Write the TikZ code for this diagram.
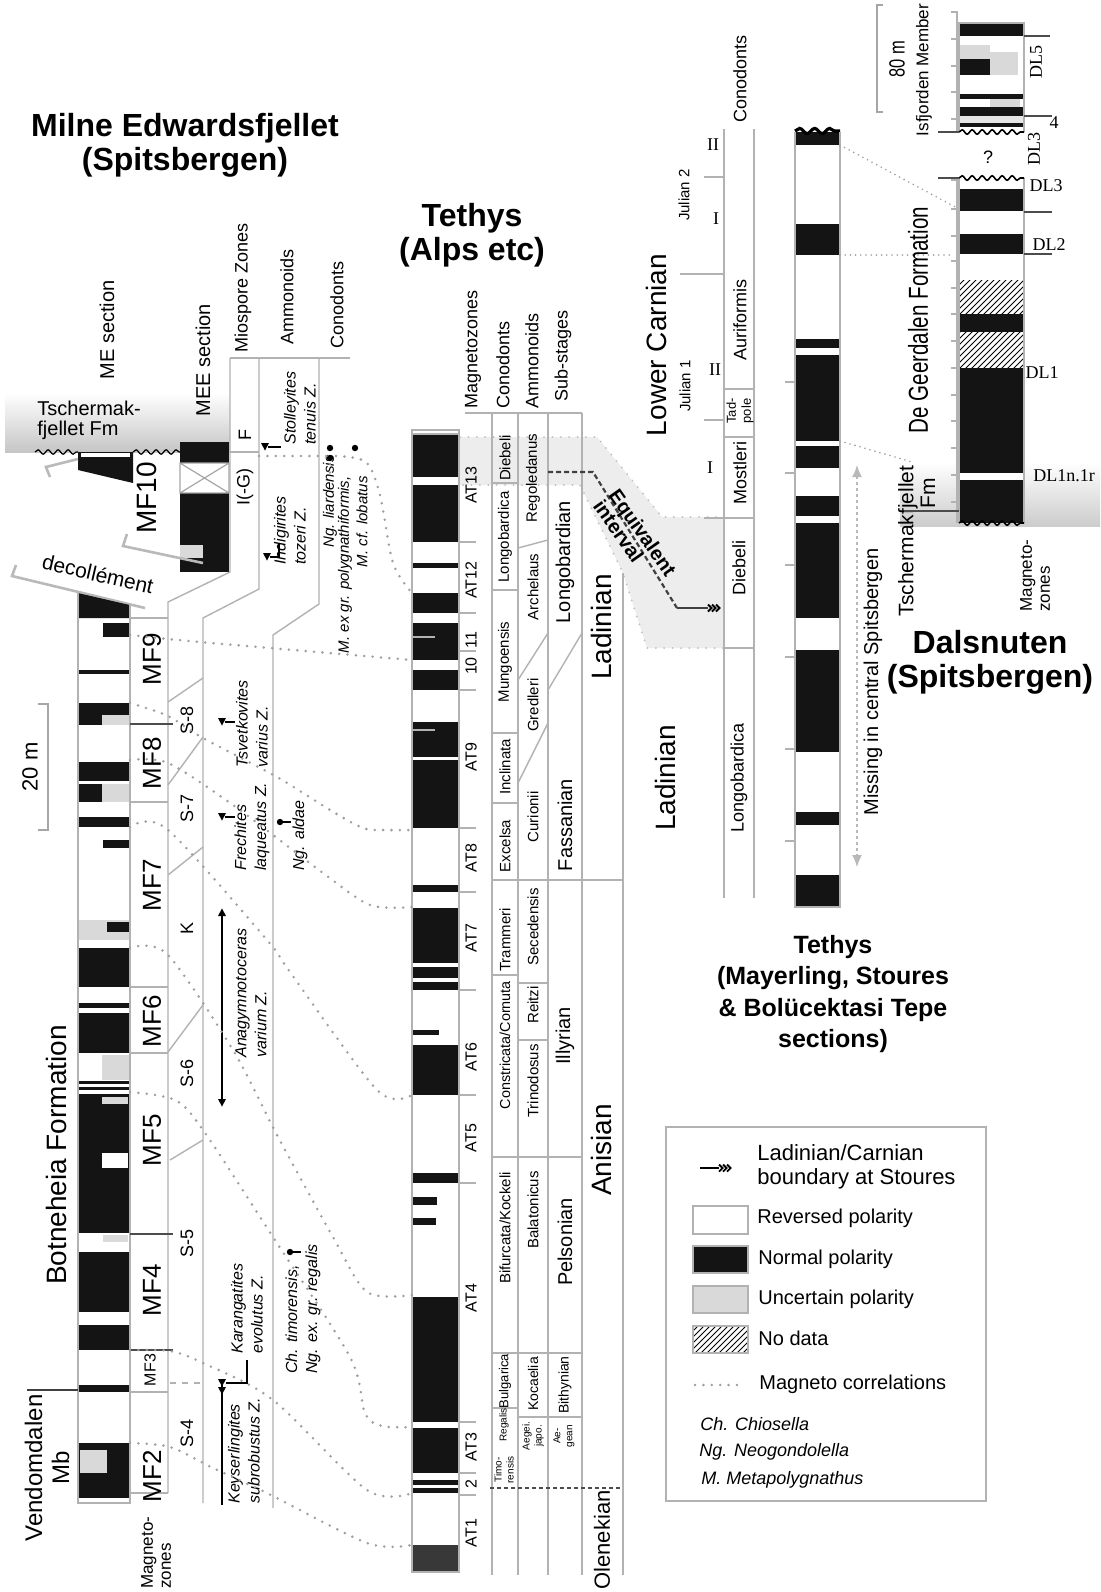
\documentclass[tikz,border=0pt]{standalone}
\usepackage{fontspec}
\setmainfont{Liberation Sans}
\newfontfamily\serifr{Liberation Serif}
\newfontfamily\narrowsans[FakeStretch=0.75]{Liberation Sans}
\usetikzlibrary{patterns,decorations.pathmorphing,arrows.meta}
\newcommand\chevs[2]{\foreach \ci in {0,4,8} {\draw[line width=0.9pt] ({#1+\ci},{#2-3.5}) -- ({#1+\ci+3.5},{#2}) -- ({#1+\ci},{#2+3.5});}}
\newcommand\trid[2]{\fill ({#1-4},{#2-4}) -- ({#1+4},{#2-4}) -- ({#1},{#2+3.5}) -- cycle;}
\newcommand\triu[2]{\fill ({#1-4},{#2+4}) -- ({#1+4},{#2+4}) -- ({#1},{#2-3.5}) -- cycle;}
\tikzset{
 zline/.style={draw=gray!60, line width=0.7pt},
 magc/.style={draw=gray!75, line width=1.4pt, dash pattern=on 0pt off 4.2pt, line cap=round},
 rtx/.style={rotate=90, inner sep=0pt},
 labx/.style={inner sep=0pt},
 colx/.style={draw=gray!60, line width=0.6pt},
 blk/.style={fill=black!92},
 unc/.style={fill=gray!30},
 gline/.style={draw=gray!55, line width=1.3pt},
 wav/.style={decorate, decoration={snake, amplitude=1.1pt, segment length=5pt}, line width=0.6pt},
 f8i/.style={font=\itshape\fontsize{8}{10}\selectfont},
 f9/.style={font=\fontsize{9}{11}\selectfont},
 f75/.style={font=\fontsize{7.5}{9}\selectfont},
 f10/.style={font=\fontsize{10}{12}\selectfont},
 f14/.style={font=\fontsize{14}{16}\selectfont},
 rom/.style={font=\serifr\fontsize{9}{10}\selectfont, inner sep=0pt},
}
\begin{document}
\begin{tikzpicture}[x=0.5pt,y=-0.5pt]
\useasboundingbox (0,0) rectangle (1100,1592);
\fill[white] (0,0) rectangle (1100,1592);

%================ LEFT: MILNE EDWARDSFJELLET =================
\node[labx,font=\bfseries\fontsize{16}{17}\selectfont,align=center] (tME) at (185,145) {Milne Edwardsfjellet\\(Spitsbergen)};
\shade[top color=white,bottom color=gray!45] (5,393) rectangle (230,452);
\node[labx,anchor=north west,align=left,font=\fontsize{10}{10}\selectfont] (tTs) at (37,401) {Tschermak-\\fjellet Fm};

\node[rtx,f10] (hME) at (107,330) {ME section};
\node[rtx,f10] (hMEE) at (203,360) {MEE section};
\node[rtx,f9] (hMio) at (243,288) {Miospore Zones};
\node[rtx,f9] (hAmm) at (287,297) {Ammonoids};
\node[rtx,f9] (hCon) at (337,305) {Conodonts};

% ME section block
\fill[blk] (78,452) -- (133,452) -- (133,483) -- (78,470) -- cycle;
\fill[white] (81,453) rectangle (130,457);
\draw[wav] (35,452) -- (78,452);
\draw[wav] (133,452) -- (180,452);
% MEE section
\fill[blk] (180,442) rectangle (229,572);
\fill[white] (180,463) rectangle (229,493);
\draw[gray!70,line width=0.6pt] (180,463) -- (229,493) (180,493) -- (229,463) (180,463) rectangle (229,493);
\fill[unc] (180,545) rectangle (203,558);
\node[rtx,font=\fontsize{14}{14}\selectfont] (tMF10) at (147,498) {MF10};

% decollement half-arrows
\draw[gline] (50,477) -- (46,467) -- (78,459);
\draw[gline] (127,534) -- (123,546) -- (203,563);
\draw[gline] (16,565) -- (12,576) -- (145,608);
\node[labx,rotate=-13,font=\fontsize{10.5}{11}\selectfont] (tDec) at (98,574) {decollément};

% zone frame lines
\draw[zline] (230,358) -- (350,358);
\draw[zline] (230,358) -- (230,572) -- (168,602) -- (168,1493);
\draw[zline] (259,358) -- (259,589) -- (203,618) -- (203,1503);
\draw[zline] (319,358) -- (319,604) -- (273,635) -- (273,1508);
\draw[zline] (230,452) -- (259,452);
\node[labx,font=\fontsize{9}{9}\selectfont] (tF) at (245,435) {\rotatebox{90}{F}};
\node[rtx,f9] (tIG) at (245,487) {I(-G)};

% Botneheia column
\fill[white] (78,593) -- (130,605) -- (130,1503) -- (78,1503) -- cycle;
\fill[blk] (78,593) -- (130,605) -- (130,618) -- (78,618) -- cycle;
\fill[blk] (103,623) rectangle (130,637);
\fill[blk] (78,670) rectangle (130,674);
\fill[blk] (78,703) rectangle (130,715);
\fill[blk] (78,715) rectangle (102,725);
\fill[unc] (102,715) rectangle (130,725);
\fill[blk] (78,762) rectangle (130,781);
\fill[blk] (78,784) rectangle (102,802);
\fill[unc] (102,784) rectangle (130,802);
\fill[blk] (78,817) rectangle (130,827);
\fill[blk] (103,840) rectangle (130,848);
\fill[unc] (78,920) rectangle (130,940);
\fill[blk] (107,922) rectangle (130,932);
\fill[blk] (78,948) rectangle (130,987);
\fill[blk] (78,1003) rectangle (130,1008);
\fill[blk] (78,1013) rectangle (130,1053);
\fill[unc] (102,1055) rectangle (130,1080);
\fill[blk] (78,1081) rectangle (130,1084);
\fill[blk] (78,1087) rectangle (130,1090);
\fill[blk] (78,1094) rectangle (130,1233);
\fill[unc] (102,1097) rectangle (128,1104);
\fill[white] (102,1153) rectangle (128,1168);
\fill[unc] (103,1235) rectangle (128,1242);
\fill[blk] (78,1252) rectangle (130,1312);
\fill[blk] (78,1325) rectangle (130,1350);
\fill[blk] (78,1385) rectangle (130,1392);
\fill[blk] (78,1443) rectangle (130,1498);
\fill[unc] (80,1450) rectangle (107,1473);
\draw[colx] (78,593) -- (78,1503) -- (130,1503) -- (130,605);
\draw[black!75,line width=0.8pt] (27,1390) -- (78,1390);

% MF boxes
\foreach \yy in {618,802,987,1053,1392,1493} {\draw[zline] (130,\yy) -- (168,\yy);}
\foreach \yy in {724,1234,1350} {\draw[black!70,line width=0.8pt] (130,\yy) -- (173,\yy);}
\node[rtx,font=\fontsize{13}{13}\selectfont] (mf9) at (152,659) {MF9};
\node[rtx,font=\fontsize{13}{13}\selectfont] (mf8) at (152,763) {MF8};
\node[rtx,font=\fontsize{13}{13}\selectfont] (mf7) at (152,885) {MF7};
\node[rtx,font=\fontsize{13}{13}\selectfont] (mf6) at (152,1021) {MF6};
\node[rtx,font=\fontsize{13}{13}\selectfont] (mf5) at (152,1140) {MF5};
\node[rtx,font=\fontsize{13}{13}\selectfont] (mf4) at (152,1290) {MF4};
\node[rtx,font=\fontsize{8}{8}\selectfont] (mf3) at (150,1370) {MF3};
\node[rtx,font=\fontsize{13}{13}\selectfont] (mf2) at (152,1476) {MF2};

% miospore boundaries
\draw[zline] (168,702) -- (203,678);
\draw[zline] (168,785) -- (203,737);
\draw[zline] (168,875) -- (203,847);
\draw[zline] (168,1052) -- (203,1005);
\draw[zline] (170,1160) -- (203,1140);
\draw[zline,dashed] (170,1383) -- (203,1383);
\node[rtx,f9] (s8) at (187,720) {S-8};
\node[rtx,f9] (s7) at (187,808) {S-7};
\node[rtx,f9] (sK) at (187,928) {K};
\node[rtx,f9] (s6) at (187,1073) {S-6};
\node[rtx,f9] (s5) at (187,1243) {S-5};
\node[rtx,f9] (s4) at (187,1433) {S-4};

% ammonoid markers
\trid{265}{447} \draw[line width=0.7pt] (268,447) -- (281,447);
\trid{267}{557} \draw[line width=0.7pt] (270,557) -- (279,557) -- (279,543);
\trid{222}{722} \draw[line width=0.7pt] (225,722) -- (235,722);
\trid{222}{817} \draw[line width=0.7pt] (225,817) -- (235,817);
\triu{222}{912} \trid{222}{1103} \draw[line width=0.7pt] (222,912) -- (222,1103);
\trid{222}{1383} \trid{222}{1391} \draw[line width=0.7pt] (222,1383) -- (222,1505);
\draw[line width=0.7pt] (226,1383) -- (247,1383) -- (247,1360);

\node[rtx,anchor=west,align=left,f8i] (aSt) at (300,445) {Stolleyites\\tenuis Z.};
\node[rtx,anchor=west,align=left,f8i] (aIn) at (290,565) {Indigirites\\tozeri Z.};
\node[rtx,anchor=west,align=left,f8i] (aTs) at (252,768) {Tsvetkovites\\varius Z.};
\node[rtx,anchor=west,align=left,f8i] (aFr) at (252,871) {Frechites\\laqueatus Z.};
\node[rtx,anchor=west,align=left,f8i] (aAn) at (251,1058) {Anagymnotoceras\\varium Z.};
\node[rtx,anchor=west,align=left,f8i] (aKa) at (247,1354) {Karangatites\\evolutus Z.};
\node[rtx,anchor=west,align=left,f8i] (aKe) at (244,1504) {Keyserlingites\\subrobustus Z.};

% conodont dots
\fill (330,448) circle (3.2); \fill (330,458) circle (3.2); \fill (355,448) circle (3.2);
\fill (280,822) circle (3.2); \draw[line width=0.6pt] (280,822) -- (291,822);
\fill (290,1252) circle (3.2); \draw[line width=0.6pt] (290,1252) -- (301,1252);
\node[rtx,anchor=west,font=\itshape\fontsize{7.5}{9}\selectfont] (cLi) at (330,548) {Ng. liardensis};
\node[rtx,anchor=east,font=\itshape\fontsize{7.5}{9}\selectfont] (cMe) at (345,476) {M. ex gr. polygnathiformis,};
\node[rtx,anchor=east,font=\itshape\fontsize{7.5}{9}\selectfont] (cMc) at (362,476) {M. cf. lobatus};
\node[rtx,anchor=west,f8i] (cAl) at (300,871) {Ng. aldae};
\node[rtx,anchor=west,align=left,f8i] (cCh) at (303,1374) {Ch. timorensis,\\Ng. ex. gr. regalis};

% titles and scale
\node[rtx,f14] (tBot) at (56,1155) {Botneheia Formation};
\node[rtx,align=center,font=\fontsize{12}{13.5}\selectfont] (tVen) at (47,1468) {Vendomdalen\\Mb};
\node[rtx,anchor=west,align=left,font=\fontsize{8.5}{9}\selectfont] (tMz) at (156,1589) {Magneto-\\zones};
\draw[gray!70,line width=0.7pt] (38,704) -- (48,704) -- (48,830) -- (38,830);
\node[rtx,font=\fontsize{11}{11}\selectfont] (t20) at (30,767) {20 m};

%================ TETHYS ALPS =================
\node[labx,font=\bfseries\fontsize{16}{17}\selectfont,align=center] (tTA) at (472,235) {Tethys\\(Alps etc)};
\node[rtx,anchor=west,f9] (hMag) at (473,409) {Magnetozones};
\node[rtx,anchor=west,f9] (hCo2) at (503,409) {Conodonts};
\node[rtx,anchor=west,f9] (hAm2) at (532,409) {Ammonoids};
\node[rtx,anchor=west,f9] (hSub) at (563,402) {Sub-stages};

% equivalent interval shading
\fill[gray!14] (460,437) -- (597,437) -- (662,517) -- (723,517) -- (723,648) -- (647,648) -- (623,573) -- (580,485) -- (460,485) -- cycle;
\draw[magc,draw=gray!50,line width=1pt] (460,437) -- (597,437) -- (662,517) -- (723,517);
\draw[magc,draw=gray!50,line width=1pt] (723,648) -- (647,648) -- (623,573) -- (580,485) -- (460,485);

% column frame lines
\draw[zline] (465,413) -- (582,413);
\foreach \xx in {492,518,548,582} {\draw[zline] (\xx,413) -- (\xx,1575);}
\draw[zline] (623,573) -- (623,1575);
\foreach \yy in {483,590,733,803,880,975} {\draw[zline] (492,\yy) -- (518,\yy);}
\draw[zline] (492,1408) -- (518,1408);
\draw[zline] (518,548) -- (548,540);
\draw[zline] (518,680) -- (548,633);
\draw[zline] (518,783) -- (548,723);
\draw[zline] (548,690) -- (582,633);
\draw[zline] (518,880) -- (623,880);
\draw[zline] (518,983) -- (548,983);
\draw[zline] (518,1040) -- (548,1040);
\draw[zline] (492,1157) -- (582,1157);
\draw[zline] (492,1353) -- (582,1353);
\draw[zline] (518,1417) -- (582,1417);
\draw[black!70,line width=0.8pt,dash pattern=on 2pt off 1.5pt] (490,1488) -- (623,1488);

% Tethys magnetozone column
\fill[white] (412,430) rectangle (459,1572);
\fill[blk] (412,435) rectangle (459,477);
\fill[blk] (412,485) rectangle (459,542);
\fill[blk] (412,563) rectangle (459,568);
\fill[blk] (412,593) rectangle (459,613);
\fill[blk] (412,623) rectangle (459,660);
\fill[blk] (412,670) rectangle (459,690);
\fill[blk] (412,722) rectangle (459,757);
\fill[blk] (412,760) rectangle (459,828);
\fill[blk] (412,885) rectangle (459,892);
\fill[blk] (412,908) rectangle (459,963);
\fill[blk] (412,967) rectangle (459,978);
\fill[blk] (412,982) rectangle (459,990);
\fill[blk] (412,1030) rectangle (439,1035);
\fill[blk] (412,1045) rectangle (459,1095);
\fill[blk] (412,1173) rectangle (459,1183);
\fill[blk] (412,1197) rectangle (437,1205);
\fill[blk] (412,1218) rectangle (436,1225);
\fill[blk] (412,1297) rectangle (459,1422);
\fill[blk] (412,1428) rectangle (459,1473);
\fill[blk] (412,1480) rectangle (459,1485);
\fill[blk] (412,1488) rectangle (459,1493);
\fill[black!78] (412,1545) rectangle (459,1572);
\draw[gray!60,line width=0.7pt] (412,637) -- (435,637) (412,730) -- (435,730);
\draw[colx] (412,430) rectangle (459,1572);
\draw[colx] (412,434) -- (459,434);
\foreach \yy in {542,613,651,690,828,892,990,1095,1183,1422,1473,1495} {\draw[zline] (459,\yy) -- (476,\yy);}
\foreach \yy/\tt/\nn in {485/AT13/m13,580/AT12/m12,640/11/m11,666/10/m10,757/AT9/m9,858/AT8/m8,938/AT7/m7,1057/AT6/m6,1138/AT5/m5,1298/AT4/m4,1447/AT3/m3,1484/2/m2,1533/AT1/m1}
  {\node[rtx,font=\fontsize{8}{8}\selectfont] (\nn) at (471,\yy) {\tt};}

% conodonts
\node[rtx,f75] (c1) at (505,458) {Diebeli};
\node[rtx,f75] (c2) at (505,537) {Longobardica};
\node[rtx,f75] (c3) at (505,662) {Mungoensis};
\node[rtx,f75] (c4) at (505,767) {Inclinata};
\node[rtx,f75] (c5) at (505,846) {Excelsa};
\node[rtx,f75] (c6) at (505,940) {Trammeri};
\node[rtx,font=\fontsize{7.2}{8}\selectfont] (c7) at (505,1045) {Constricata/Cornuta};
\node[rtx,f75] (c8) at (505,1228) {Bifurcata/Kockeli};
\node[rtx,font=\fontsize{6.5}{7}\selectfont] (c9) at (505,1381) {Bulgarica};
\node[rtx,font=\fontsize{5}{6}\selectfont] (c10) at (504,1425) {Regalis};
\node[rtx,align=center,font=\fontsize{5}{6}\selectfont] (c11) at (504,1470) {Timo-\\rensis};
% ammonoids
\node[rtx,f75] (a1) at (533,478) {Regoledanus};
\node[rtx,f75] (a2) at (533,587) {Archelaus};
\node[rtx,f75] (a3) at (533,705) {Gredleri};
\node[rtx,f75] (a4) at (533,817) {Curionii};
\node[rtx,f75] (a5) at (533,927) {Secedensis};
\node[rtx,f75] (a6) at (533,1005) {Reitzi};
\node[rtx,f75] (a7) at (533,1081) {Trinodosus};
\node[rtx,f75] (a8) at (533,1210) {Balatonicus};
\node[rtx,font=\fontsize{7}{8}\selectfont] (a9) at (533,1384) {Kocaelia};
\node[rtx,align=center,font=\fontsize{5}{6}\selectfont] (a10) at (533,1436) {Aegei.\\japo.};
% sub-stages
\node[rtx,f10] (b1) at (565,562) {Longobardian};
\node[rtx,f10] (b2) at (565,825) {Fassanian};
\node[rtx,f10] (b3) at (565,1036) {Illyrian};
\node[rtx,f10] (b4) at (565,1242) {Pelsonian};
\node[rtx,font=\fontsize{7}{8}\selectfont] (b5) at (565,1385) {Bithynian};
\node[rtx,align=center,font=\fontsize{5}{6}\selectfont] (b6) at (564,1436) {Ae-\\gean};
% stages
\node[rtx,f14] (g1) at (601,627) {Ladinian};
\node[rtx,f14] (g2) at (601,1150) {Anisian};
\node[rtx,font=\fontsize{11}{11}\selectfont] (g3) at (602,1540) {Olenekian};

% equivalent interval line
\draw[black!75,line width=1.1pt,dash pattern=on 2.5pt off 1.5pt] (548,472) -- (593,472) -- (677,608);
\draw[black!75,line width=0.9pt] (677,608) -- (708,608);
\chevs{708}{608}
\node[labx,rotate=-55,align=left,font=\bfseries\fontsize{10}{9.5}\selectfont] (tEq) at (635,538) {Equivalent\\interval};

% magneto correlations left
\draw[magc] (259,456) -- (330,456);
\draw[magc] (330,464) -- (330,476);
\draw[magc] plot[smooth,tension=0.5] coordinates {(336,456) (366,462) (380,495) (393,563) (412,593)};
\draw[magc] plot[smooth,tension=0.5] coordinates {(130,635) (200,642) (412,660)};
\draw[magc] plot[smooth,tension=0.5] coordinates {(130,703) (168,716) (203,738) (277,777) (330,810) (363,828) (385,830) (412,830)};
\draw[magc] plot[smooth,tension=0.5] coordinates {(130,760) (168,763) (233,805) (323,873) (370,905) (412,907)};
\draw[magc] plot[smooth,tension=0.5] coordinates {(130,827) (167,829) (267,940) (290,972) (377,1090) (412,1095)};
\draw[magc] plot[smooth,tension=0.5] coordinates {(130,948) (167,954) (233,1050) (277,1135) (333,1237) (367,1292) (412,1295)};
\draw[magc] plot[smooth,tension=0.5] coordinates {(130,1092) (175,1100) (203,1130) (273,1237) (350,1357) (365,1413) (382,1426) (412,1427)};
\draw[magc] plot[smooth,tension=0.5] coordinates {(130,1350) (170,1351) (203,1363) (273,1400) (367,1490) (412,1493)};
\draw[magc] plot[smooth,tension=0.5] coordinates {(130,1443) (170,1447) (213,1468) (267,1493) (367,1543) (412,1545)};

%================ TETHYS MAYERLING =================
\node[rtx,f9] (hCo3) at (740,79) {Conodonts};
\draw[zline] (724,129) -- (724,898);
\draw[zline] (754,129) -- (754,898);
\draw[zline] (704,177) -- (724,177);
\draw[zline] (680,274) -- (724,274);
\draw[zline] (704,420) -- (724,420);
\draw[zline] (704,518) -- (754,518);
\foreach \yy in {389,437,648} {\draw[zline] (724,\yy) -- (754,\yy);}
\node[rom] (r1) at (713,145) {II};
\node[rtx,font=\fontsize{7.5}{8}\selectfont] (r2) at (684,195) {Julian 2};
\node[rom] (r3) at (716,219) {I};
\node[rtx,f14] (r4) at (656,345) {Lower Carnian};
\node[rtx,f9] (r5) at (740,320) {Auriformis};
\node[rom] (r6) at (715,370) {II};
\node[rtx,font=\fontsize{7.5}{8}\selectfont] (r7) at (685,386) {Julian 1};
\node[rtx,align=center,font=\fontsize{6.5}{7.5}\selectfont] (r8) at (740,411) {Tad-\\pole};
\node[rom] (r9) at (710,468) {I};
\node[rtx,f9] (r10) at (740,473) {Mostleri};
\node[rtx,f9] (r11) at (739,568) {Diebeli};
\node[rtx,f9] (r12) at (739,778) {Longobardica};
\node[rtx,f14] (r13) at (665,778) {Ladinian};

\fill[white] (795,132) rectangle (840,907);
\fill[blk] (795,132) rectangle (840,145);
\draw[black,line width=1.6pt,decorate,decoration={snake,amplitude=1.3pt,segment length=7.5pt}] (795,131) -- (840,131);
\fill[blk] (795,224) rectangle (840,255);
\fill[blk] (795,339) rectangle (840,348);
\fill[blk] (795,355) rectangle (840,441);
\fill[blk] (795,446) rectangle (840,468);
\fill[blk] (795,496) rectangle (840,516);
\fill[blk] (795,523) rectangle (840,618);
\fill[blk] (795,650) rectangle (840,752);
\fill[blk] (795,812) rectangle (840,825);
\fill[blk] (795,875) rectangle (840,907);
\draw[colx] (795,132) -- (795,907) -- (840,907) -- (840,132);
\foreach \yy in {382,473,565,657,749,841} {\draw[zline] (785,\yy) -- (795,\yy);}
\draw[gray!55,line width=0.8pt,dash pattern=on 1.5pt off 1.5pt,{Latex[length=6pt,width=5pt]}-{Latex[length=6pt,width=5pt]}] (857,465) -- (857,867);
\node[rtx,f10] (tMis) at (873,682) {Missing in central Spitsbergen};
\node[labx,font=\bfseries\fontsize{12.5}{15.75}\selectfont,align=center] (tTM) at (833,994) {Tethys\\(Mayerling, Stoures\\\& Bolücektasi Tepe\\sections)};

% correlations right
\draw[magc,line width=0.9pt,dash pattern=on 0pt off 2.6pt] (840,145) -- (959,209);
\draw[magc,line width=0.9pt,dash pattern=on 0pt off 2.6pt] (840,255) -- (950,255);
\draw[magc,line width=0.9pt,dash pattern=on 0pt off 2.6pt] (840,441) -- (957,475);

%================ DALSNUTEN =================
\shade[top color=white,bottom color=gray!40] (900,462) rectangle (1100,526);
\draw[gray!70,line width=0.7pt] (883,5) -- (877,5) -- (877,112) -- (883,112);
\node[rtx,font=\narrowsans\fontsize{11}{11}\selectfont] (t80) at (897,59) {80 m};
\node[rtx,font=\fontsize{8.5}{9}\selectfont] (tIsf) at (924,70) {Isfjorden Member};
\node[rtx,font=\narrowsans\fontsize{13.7}{14}\selectfont] (tDG) at (918,320) {De Geerdalen Formation};
\node[rtx,font=\fontsize{10.5}{11}\selectfont] (tTs2) at (908,541) {Tschermakfjellet};
\node[rtx,font=\fontsize{10.5}{11}\selectfont] (tFm2) at (928,493) {Fm};
\node[rtx,anchor=west,align=left,font=\fontsize{8.5}{9}\selectfont] (tMz2) at (1035,612) {Magneto-\\zones};
\node[labx,font=\bfseries\fontsize{16}{17}\selectfont,align=center] (tDal) at (990,662) {Dalsnuten\\(Spitsbergen)};

% upper column
\fill[white] (959,23) rectangle (1024,132);
\fill[blk] (959,23) rectangle (1024,36);
\fill[unc] (959,45) rectangle (990,59);
\fill[unc] (990,52) rectangle (1018,75);
\fill[blk] (959,59) rectangle (990,75);
\fill[blk] (959,94) rectangle (1024,99);
\fill[unc] (990,99) rectangle (1020,107);
\fill[blk] (959,107) rectangle (1024,116);
\fill[gray!20] (959,116) rectangle (1024,123);
\fill[blk] (959,123) rectangle (1024,127);
\draw[colx] (959,132) -- (959,23) -- (1024,23) -- (1024,132);
\draw[wav,line width=0.8pt] (959,132) -- (1024,132);
\draw[colx] (957,11) -- (957,132);
\foreach \yy in {12,39,66,92,119} {\draw[colx] (951,\yy) -- (957,\yy);}
\draw[black!70,line width=0.7pt] (1024,36) -- (1050,36);
\draw[black!70,line width=0.7pt] (1024,116) -- (1052,116);
\draw[black!70,line width=0.7pt] (938,132) -- (959,132);
\node[rtx,font=\serifr\fontsize{9}{9}\selectfont] (dl5) at (1036,62) {DL5};
\node[rom] (dl4) at (1054,123) {4};
\node[rtx,font=\serifr\fontsize{9}{9}\selectfont] (dl3a) at (1034,149) {DL3};
\node[labx,font=\fontsize{9}{9}\selectfont] (tQ) at (988,157) {?};

% lower column
\fill[white] (959,178) rectangle (1024,523);
\fill[blk] (959,189) rectangle (1024,211);
\fill[blk] (959,234) rectangle (1024,254);
\fill[pattern=north east lines] (959,280) rectangle (1024,314);
\fill[blk] (959,314) rectangle (1024,332);
\fill[pattern=north east lines] (959,332) rectangle (1024,368);
\fill[blk] (959,368) rectangle (1024,473);
\fill[blk] (959,480) rectangle (1024,523);
\draw[colx] (959,178) -- (959,523) (1024,178) -- (1024,523);
\draw[wav,line width=0.8pt] (959,178) -- (1024,178);
\draw[wav,line width=0.8pt] (959,523) -- (1024,523);
\draw[colx] (957,178) -- (957,523);
\foreach \yy in {180,209,236,261,288,314,341,368,395,421,448,475,502} {\draw[colx] (951,\yy) -- (957,\yy);}
\draw[black!70,line width=0.7pt] (938,178) -- (959,178);
\draw[black!70,line width=0.7pt] (904,511) -- (959,511);
\draw[black!70,line width=0.7pt] (1024,212) -- (1052,212);
\draw[black!70,line width=0.7pt] (1024,254) -- (1052,254);
\node[rom] (dl3) at (1046,186) {DL3};
\node[rom] (dl2) at (1049,245) {DL2};
\node[rom] (dl1) at (1042,373) {DL1};
\node[rom] (dl1n) at (1064,476) {DL1n.1r};

%================ LEGEND =================
\draw[gray!60,line width=0.7pt] (666,1127) rectangle (986,1501);
\draw[line width=0.8pt] (700,1168) -- (719,1168);
\chevs{719}{1168}
\node[labx,anchor=west,align=left,font=\fontsize{11}{12}\selectfont] (lg1) at (757,1167) {Ladinian/Carnian\\boundary at Stoures};
\draw[gray!60,fill=white,line width=0.7pt] (693,1206) rectangle (748,1234);
\node[labx,anchor=west,f10] (lg2) at (757,1218) {Reversed polarity};
\draw[gray!60,fill=black!92,line width=0.7pt] (693,1246) rectangle (748,1273);
\node[labx,anchor=west,f10] (lg3) at (758,1259) {Normal polarity};
\draw[gray!60,fill=gray!30,line width=0.7pt] (693,1286) rectangle (748,1313);
\node[labx,anchor=west,f10] (lg4) at (758,1299) {Uncertain polarity};
\fill[pattern=north east lines] (693,1326) rectangle (748,1353);
\draw[gray!60,line width=0.7pt] (693,1326) rectangle (748,1353);
\node[labx,anchor=west,f10] (lg5) at (758,1338) {No data};
\draw[magc] (695,1385) -- (740,1385);
\node[labx,anchor=west,f10] (lg6) at (759,1384) {Magneto correlations};
\node[labx,anchor=west,font=\itshape\fontsize{9}{9}\selectfont] (lg7) at (700,1424) {Ch. Chiosella};
\node[labx,anchor=west,font=\itshape\fontsize{9}{9}\selectfont] (lg8) at (699,1452) {Ng. Neogondolella};
\node[labx,anchor=west,font=\itshape\fontsize{9}{9}\selectfont] (lg9) at (701,1480) {M. Metapolygnathus};
\end{tikzpicture}
\end{document}
